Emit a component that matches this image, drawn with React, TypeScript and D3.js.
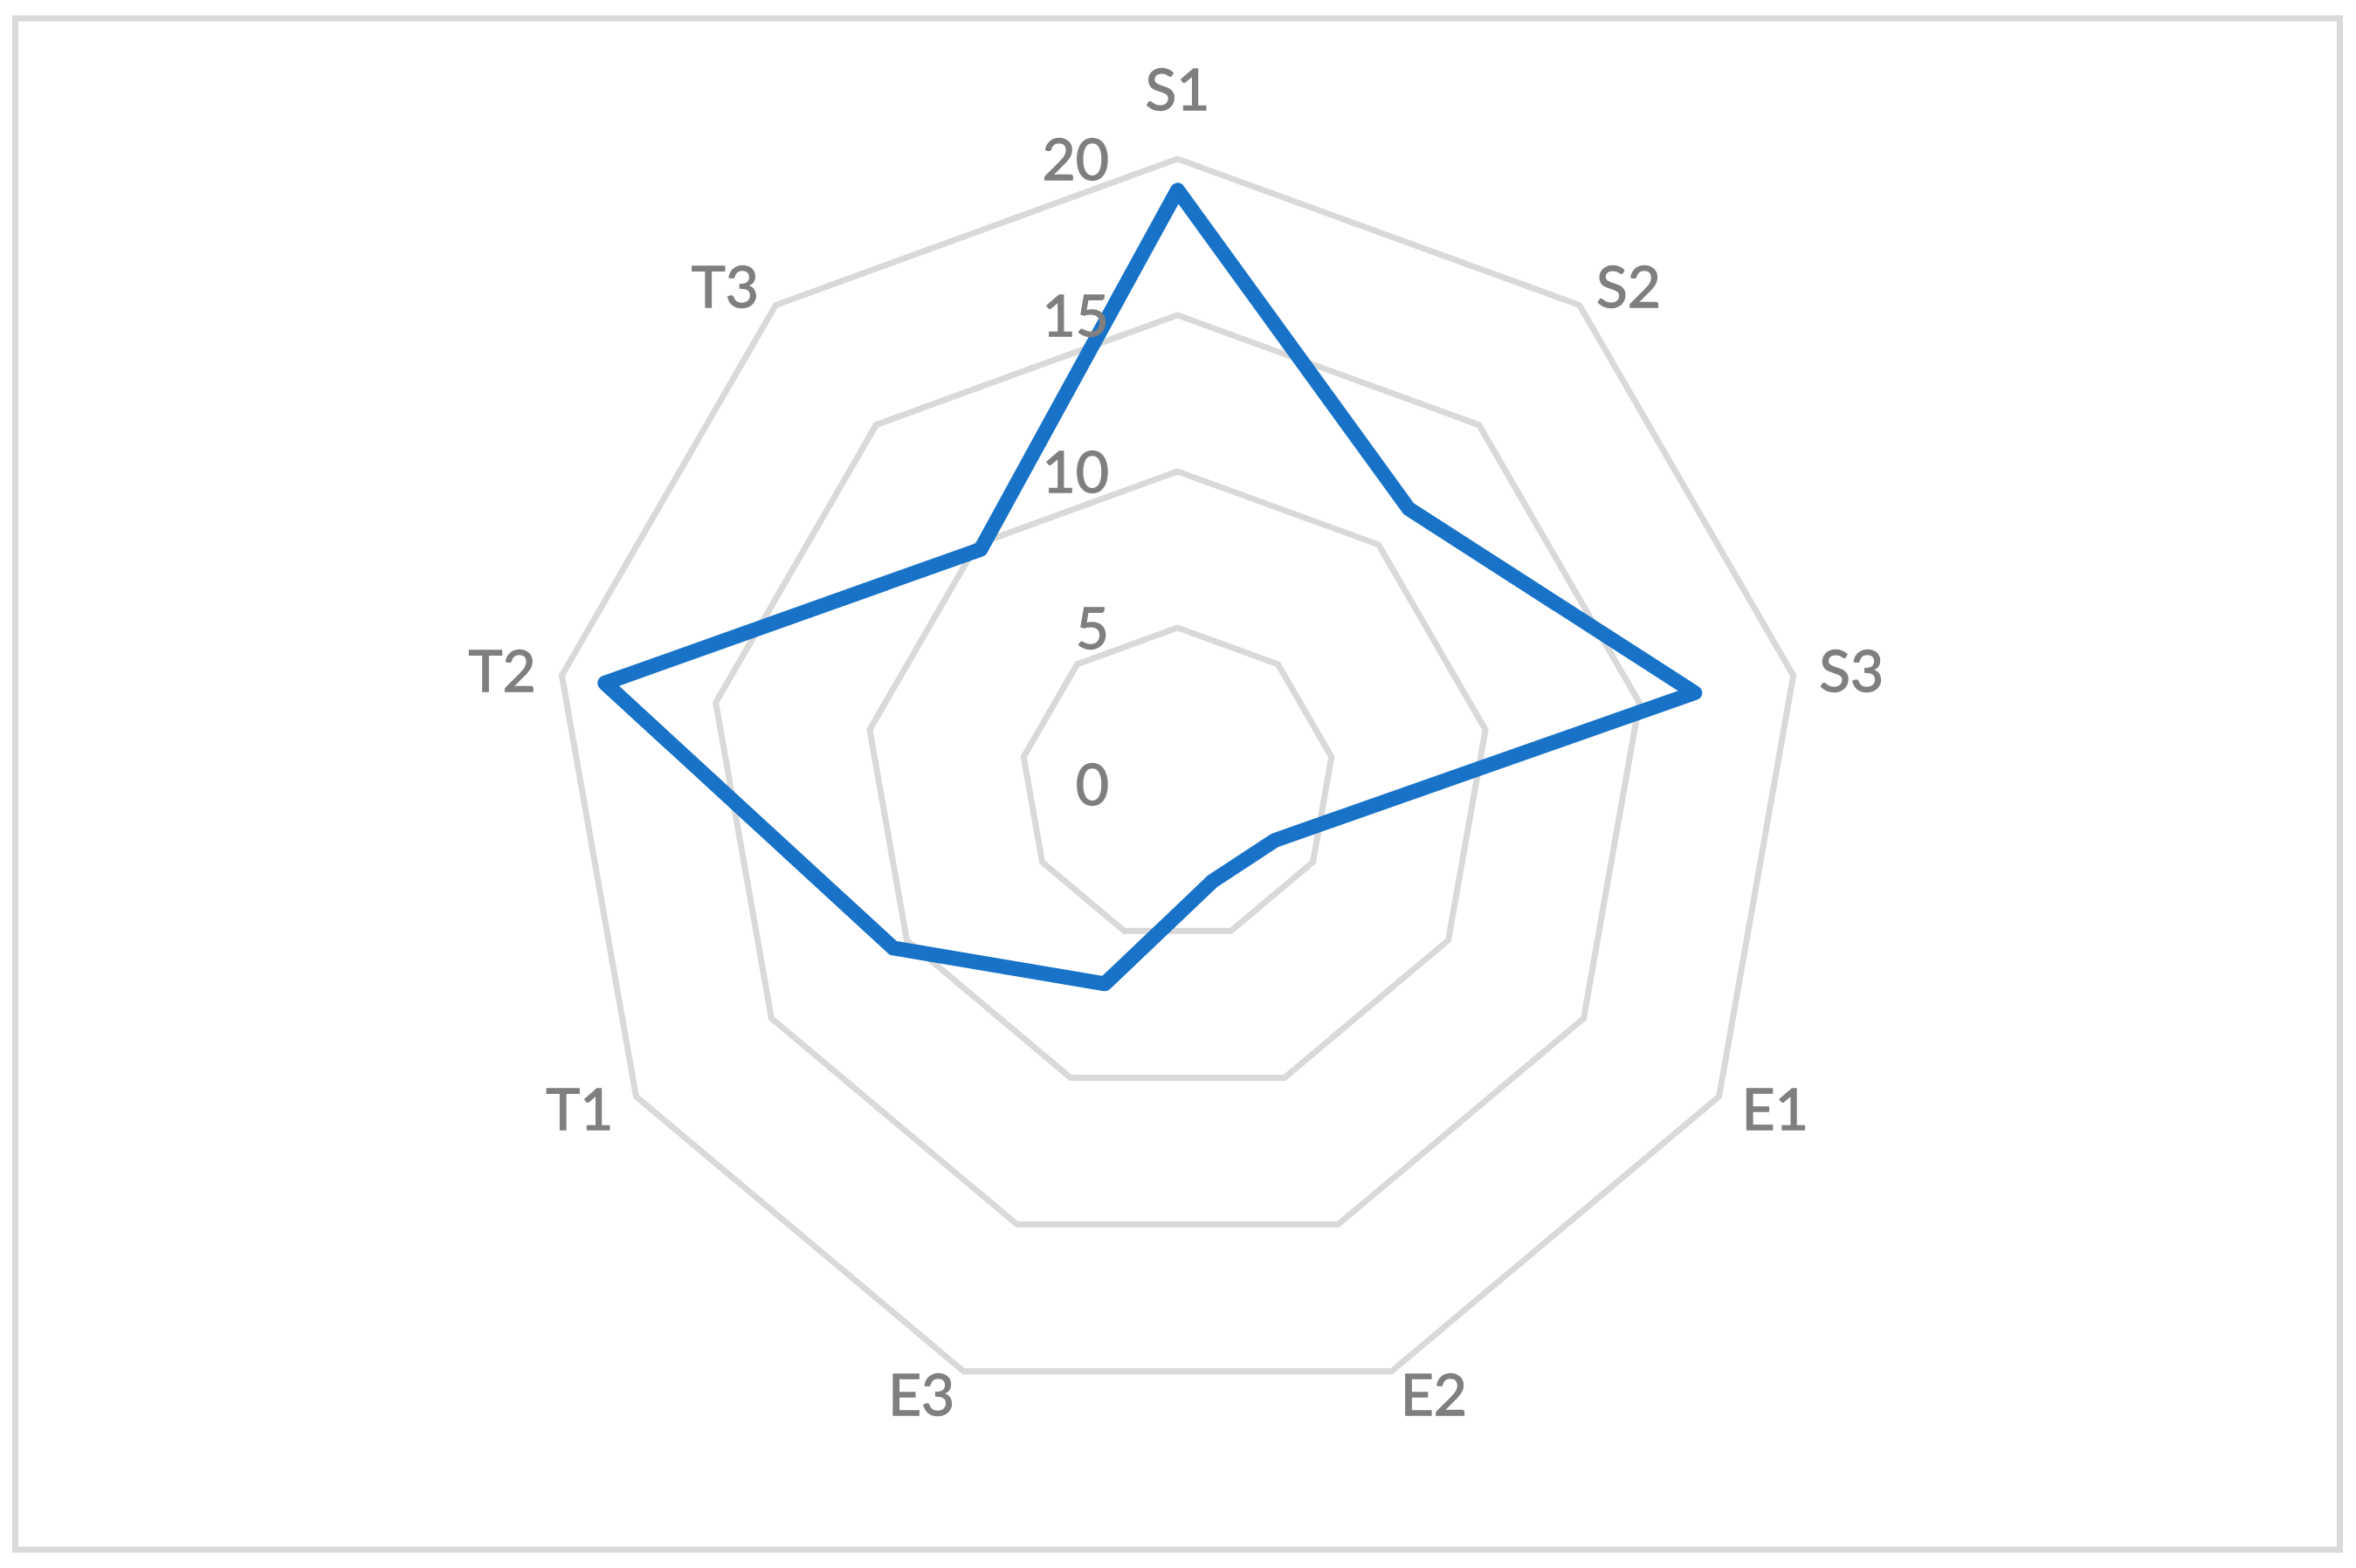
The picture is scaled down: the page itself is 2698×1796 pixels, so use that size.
import React from 'react';
import * as d3 from 'd3';

const categories = ['S1', 'S2', 'S3', 'E1', 'E2', 'E3', 'T1', 'T2', 'T3'];
const values = [19, 11.5, 16.8, 3.6, 3.3, 6.8, 10.5, 18.6, 9.8];
const ticks = [0, 5, 10, 15, 20];

export default function App() {
    const width = 2698;
    const height = 1796;
    const cx = 1348.5;
    const cy = 898;
    const outerR = 716;
    const capH = 47;
    const font = "Lato, 'Open Sans', sans-serif";

    const r = d3.scaleLinear().domain([0, 20]).range([0, outerR]);
    const angle = (i: number) => (i * 2 * Math.PI) / categories.length;

    const radial = d3.lineRadial<number>()
        .angle((_, i) => angle(i))
        .radius(d => r(d))
        .curve(d3.curveLinearClosed);

    const rings = ticks.filter(t => t > 0);

    return (
        <svg width={width} height={height}
            style={{ position: 'absolute', left: 0, top: 0, display: 'block', background: '#fff' }}>
            <rect x={17.5} y={21} width={2662} height={1754} fill="#fff" stroke="#d9d9d9" strokeWidth={7} />
            <g transform={`translate(${cx},${cy})`}>
                {rings.map(t => (
                    <path key={t} d={radial(categories.map(() => t)) || ''}
                        fill="none" stroke="#d9d9d9" strokeWidth={7} strokeLinejoin="miter" />
                ))}
                <path d={radial(values) || ''} fill="none" stroke="#1873c8" strokeWidth={17}
                    strokeLinejoin="round" />
                {ticks.map(t => (
                    <text key={t} x={-78.5} y={-r(t) + capH / 2} textAnchor="end"
                        fontFamily={font} fontSize={66} fill="#7f7f7f"
                        stroke="#7f7f7f" strokeWidth={1.3}>{t}</text>
                ))}
                {categories.map((c, i) => {
                    const a = angle(i);
                    const s = Math.sin(a);
                    const co = Math.cos(a);
                    const vx = outerR * s;
                    const vy = -outerR * co;
                    let anchor = 'middle';
                    let x = vx;
                    let capCenter = vy - 79.5;
                    if (Math.abs(s) > 0.01) {
                        anchor = s > 0 ? 'start' : 'end';
                        x = vx + s * 30;
                        capCenter = vy - co * 28;
                    }
                    return (
                        <text key={c} x={x} y={capCenter + capH / 2} textAnchor={anchor}
                            fontFamily={font} fontSize={66} fill="#7f7f7f"
                            stroke="#7f7f7f" strokeWidth={1.3}>{c}</text>
                    );
                })}
            </g>
        </svg>
    );
}
